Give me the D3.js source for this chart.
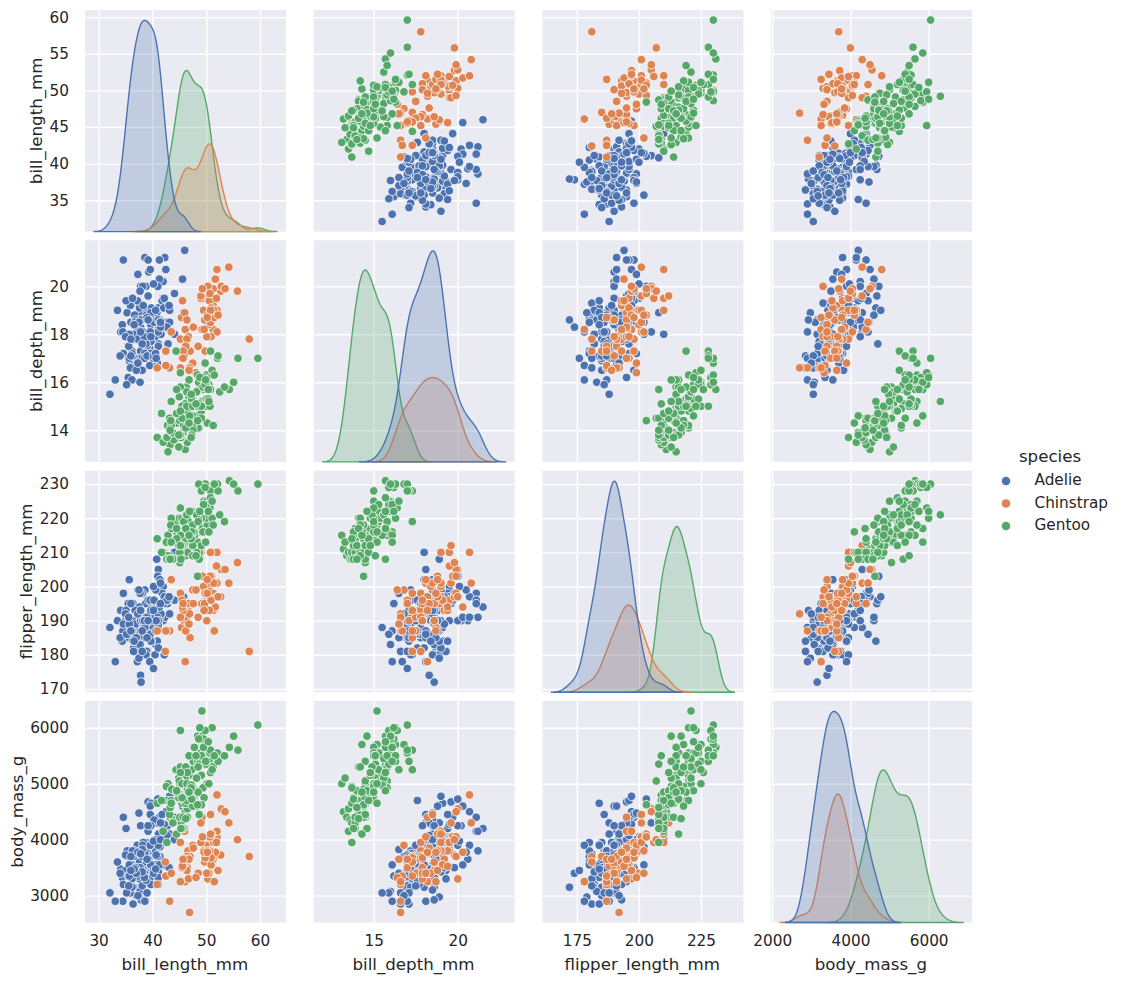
<!DOCTYPE html>
<html>
<head>
<meta charset="utf-8">
<script src="https://cdn.jsdelivr.net/npm/d3@7"></script>
<style>
html, body { margin: 0; padding: 0; background: #fff; }
svg { display: block; }
text { font-family: "DejaVu Sans", sans-serif; fill: #262626; }
</style>
</head>
<body>
<svg id="chart" width="1121" height="983"></svg>
<script>
var speciesNames = ['Adelie', 'Chinstrap', 'Gentoo'];
var speciesColors = ['#4c72b0', '#dd8452', '#55a868'];
var variables = ['bill_length_mm', 'bill_depth_mm', 'flipper_length_mm', 'body_mass_g'];

var billLengthTicks = [30, 40, 50, 60];
var billLengthRowTicks = [35, 40, 45, 50, 55, 60];
var billDepthTicks = [15, 20];
var billDepthRowTicks = [14, 16, 18, 20];
var flipperTicks = [175, 200, 225];
var flipperRowTicks = [170, 180, 190, 200, 210, 220, 230];
var massTicks = [2000, 4000, 6000];
var massRowTicks = [3000, 4000, 5000, 6000];

// bill length, bill depth, flipper length, body mass
var adelie = [
    [39.1,18.7,181,3750],[39.5,17.4,186,3800],[40.3,18,195,3250],[36.7,19.3,193,3450],[39.3,20.6,190,3650],
    [38.9,17.8,181,3625],[39.2,19.6,195,4675],[34.1,18.1,193,3475],[42,20.2,190,4250],[37.8,17.1,186,3300],
    [37.8,17.3,180,3700],[41.1,17.6,182,3200],[38.6,21.2,191,3800],[34.6,21.1,198,4400],[36.6,17.8,185,3700],
    [38.7,19,195,3450],[42.5,20.7,197,4500],[34.4,18.4,184,3325],[46,21.5,194,4200],[37.8,18.3,174,3400],
    [37.7,18.7,180,3600],[35.9,19.2,189,3800],[38.2,18.1,185,3950],[38.8,17.2,180,3800],[35.3,18.9,187,3800],
    [40.6,18.6,183,3550],[40.5,17.9,187,3200],[37.9,18.6,172,3150],[40.5,18.9,180,3950],[39.5,16.7,178,3250],
    [37.2,18.1,178,3900],[39.5,17.8,188,3300],[40.9,18.9,184,3900],[36.4,17,195,3325],[39.2,21.1,196,4150],
    [38.8,20,190,3950],[42.2,18.5,180,3550],[37.6,19.3,181,3300],[39.8,19.1,184,4650],[36.5,18,182,3150],
    [40.8,18.4,195,3900],[36,18.5,186,3100],[44.1,19.7,196,4400],[37,16.9,185,3000],[39.6,18.8,190,4600],
    [41.1,19,182,3425],[37.5,18.9,179,2975],[42.3,21.2,191,4150],[39.6,17.7,186,3500],[40.1,18.9,188,4300],
    [35,17.9,190,3450],[42,19.5,200,4050],[34.5,18.1,187,2900],[41.4,18.6,191,3700],[39,17.5,186,3550],
    [40.6,18.8,193,3800],[36.5,16.6,181,2850],[37.6,19.1,194,3750],[35.7,16.9,185,3150],[41.3,21.1,195,4400],
    [37.6,17,185,3600],[41.1,18.2,192,4050],[36.4,17.1,184,2850],[41.6,18,192,3950],[35.5,16.2,195,3350],
    [41.1,19.1,188,4100],[35.9,16.6,190,3050],[41.8,19.4,198,4450],[33.5,19,190,3600],[39.7,18.4,190,3900],
    [39.6,17.2,196,3550],[45.8,18.9,197,4150],[35.5,17.5,190,3700],[42.8,18.5,195,4250],[40.9,16.8,191,3700],
    [37.2,19.4,184,3900],[36.2,16.1,187,3550],[42.1,19.1,195,4000],[34.6,17.2,189,3200],[42.9,17.6,196,4700],
    [36.7,18.8,187,3800],[35.1,19.4,193,4200],[37.3,17.8,191,3350],[41.3,20.3,194,3550],[36.3,19.5,190,3800],
    [36.9,18.6,189,3500],[38.3,19.2,189,3950],[38.9,18.8,190,3600],[35.7,18,202,3550],[41.1,18.1,205,4300],
    [34,17.1,185,3400],[39.6,18.1,186,4450],[36.2,17.3,187,3300],[40.8,18.9,208,4300],[38.1,18.6,190,3700],
    [40.3,18.5,196,4350],[33.1,16.1,178,2900],[43.2,18.5,192,4100],[35,17.9,192,3725],[41,20,203,4725],
    [37.7,16,183,3075],[37.8,20,190,4250],[37.9,18.6,193,2925],[39.7,18.9,184,3550],[38.6,17.2,199,3750],
    [38.2,20,190,3900],[38.1,17,181,3175],[43.2,19,197,4775],[38.1,16.5,198,3825],[45.6,20.3,191,4600],
    [39.7,17.7,193,3200],[42.2,19.5,197,4275],[39.6,20.7,191,3900],[42.7,18.3,196,4075],[38.6,17,188,2900],
    [37.3,20.5,199,3775],[35.7,17,189,3350],[41.1,18.6,189,3325],[36.2,17.2,187,3150],[37.7,19.8,198,3500],
    [40.2,17,176,3450],[41.4,18.5,202,3875],[35.2,15.9,186,3050],[40.6,19,199,4000],[38.8,17.6,191,3275],
    [41.5,18.3,195,4300],[39,17.1,191,3050],[44.1,18,210,4000],[38.5,17.9,190,3325],[43.1,19.2,197,3500],
    [36.8,18.5,193,3500],[37.5,18.5,199,4475],[38.1,17.6,187,3425],[41.1,17.5,190,3900],[35.6,17.5,191,3175],
    [40.2,20.1,200,3975],[37,16.5,185,3400],[39.7,17.9,193,4250],[40.2,17.1,193,3400],[40.6,17.2,187,3475],
    [32.1,15.5,188,3050],[40.7,17,190,3725],[37.3,16.8,192,3000],[39,18.7,185,3650],[39.2,18.6,190,4250],
    [36.6,18.4,184,3475],[36,17.8,195,3450],[37.8,18.1,193,3750],[36,17.1,187,3700],[41.5,18.5,201,4000]
];
var chinstrap = [
    [46.5,17.9,192,3500],[50,19.5,196,3900],[51.3,19.2,193,3650],[45.4,18.7,188,3525],[52.7,19.8,197,3725],
    [45.2,17.8,198,3950],[46.1,18.2,178,3250],[51.3,18.2,197,3750],[46,18.9,195,4150],[51.3,19.9,198,3700],
    [46.6,17.8,193,3800],[51.7,20.3,194,3775],[47,17.3,185,3700],[52,18.1,201,4050],[45.9,17.1,190,3575],
    [50.5,19.6,201,4050],[50.3,20,197,3300],[58,17.8,181,3700],[46.4,18.6,190,3450],[49.2,18.2,195,4400],
    [42.4,17.3,181,3600],[48.5,17.5,191,3400],[43.2,16.6,187,2900],[50.6,19.4,193,3800],[46.7,17.9,195,3300],
    [52,19,197,4150],[50.5,18.4,200,3400],[49.5,19,200,3800],[46.4,17.8,191,3700],[52.8,20,205,4550],
    [40.9,16.6,187,3200],[54.2,20.8,201,4300],[42.5,16.7,187,3350],[51,18.8,203,4100],[49.7,18.6,195,3600],
    [47.5,16.8,199,3900],[47.6,18.3,195,3850],[52,20.7,210,4800],[46.9,16.6,192,2700],[53.5,19.9,205,4500],
    [49,19.5,210,3950],[46.2,17.5,187,3650],[50.9,19.1,196,3550],[45.5,17,196,3500],[50.9,17.9,196,3675],
    [50.8,18.5,201,4450],[50.1,17.9,190,3400],[49,19.6,212,4300],[51.5,18.7,187,3250],[49.8,17.3,198,3675],
    [48.1,16.4,199,3325],[51.4,19,201,3950],[45.7,17.3,193,3600],[50.7,19.7,203,4050],[42.5,17.3,187,3350],
    [52.2,18.8,197,3450],[45.2,16.6,191,3250],[49.3,19.9,203,4050],[50.2,18.8,202,3800],[45.6,19.4,194,3525],
    [51.9,19.5,206,3950],[46.8,16.5,189,3650],[45.7,17,195,3650],[55.8,19.8,207,4000],[43.5,18.1,202,3400],
    [49.6,18.2,193,3775],[50.8,19,210,4100],[50.2,18.7,198,3775]
];
var gentoo = [
    [46.1,13.2,211,4500],[50,16.3,230,5700],[48.7,14.1,210,4450],[50,15.2,218,5700],[47.6,14.5,215,5400],
    [46.5,13.5,210,4550],[45.4,14.6,211,4800],[46.7,15.3,219,5200],[43.3,13.4,209,4400],[46.8,15.4,215,5150],
    [40.9,13.7,214,4650],[49,16.1,216,5550],[45.5,13.7,214,4650],[48.4,14.6,213,5850],[45.8,14.6,210,4200],
    [49.3,15.7,217,5850],[42,13.5,210,4150],[49.2,15.2,221,6300],[46.2,14.5,209,4800],[48.7,15.1,222,5350],
    [50.2,14.3,218,5700],[45.1,14.5,215,5000],[46.5,14.5,213,4400],[46.3,15.8,215,5050],[42.9,13.1,215,5000],
    [46.1,15.1,215,5100],[44.5,14.3,216,4100],[47.8,15,215,5650],[48.2,14.3,210,4600],[50,15.3,220,5550],
    [47.3,15.3,222,5250],[42.8,14.2,209,4700],[45.1,14.5,207,5050],[59.6,17,230,6050],[49.1,14.8,220,5150],
    [48.4,16.3,220,5400],[42.6,13.7,213,4950],[44.4,17.3,219,5250],[44,13.6,208,4350],[48.7,15.7,208,5350],
    [42.7,13.7,208,3950],[49.6,16,225,5700],[45.3,13.7,210,4300],[49.6,15,216,4750],[50.5,15.9,222,5550],
    [43.6,13.9,217,4900],[45.5,13.9,210,4200],[50.5,15.9,225,5400],[44.9,13.3,213,5100],[45.2,15.8,215,5300],
    [46.6,14.2,210,4850],[48.5,14.1,220,5300],[45.1,14.4,210,4400],[50.1,15,225,5000],[46.5,14.4,217,4900],
    [45,15.4,220,5050],[43.8,13.9,208,4300],[45.5,15,220,5000],[43.2,14.5,208,4450],[50.4,15.3,224,5550],
    [45.3,13.8,208,4200],[46.2,14.9,221,5300],[45.7,13.9,214,4400],[54.3,15.7,231,5650],[45.8,14.2,219,4700],
    [49.8,16.8,230,5700],[46.2,14.4,214,4650],[49.5,16.2,229,5800],[43.5,14.2,220,4700],[50.7,15,223,5550],
    [47.7,15,216,4750],[46.4,15.6,221,5000],[48.2,15.6,221,5100],[46.5,14.8,217,5200],[46.4,15,216,4700],
    [48.6,16,230,5800],[47.5,14.2,209,4600],[51.1,16.3,220,6000],[45.2,13.8,215,4750],[45.2,16.4,223,5950],
    [49.1,14.5,212,4625],[52.5,15.6,221,5450],[47.4,14.6,212,4725],[50,15.9,224,5350],[44.9,13.8,212,4750],
    [50.8,17.3,228,5600],[43.4,14.4,218,4600],[51.3,14.2,218,5300],[47.5,14,212,4875],[52.1,17,230,5550],
    [47.5,15,218,4950],[52.2,17.1,228,5400],[45.5,14.5,212,4750],[49.5,16.1,224,5650],[44.5,14.7,214,4850],
    [50.8,15.7,226,5200],[49.4,15.8,216,4925],[46.9,14.6,222,4875],[48.4,14.4,203,4625],[51.1,16.5,225,5250],
    [48.5,15,219,4850],[55.9,17,228,5600],[47.2,15.5,215,4975],[49.1,15,228,5500],[47.3,13.8,216,4725],
    [46.8,16.1,215,5500],[41.7,14.7,210,4700],[53.4,15.8,219,5500],[43.3,14,208,4575],[48.1,15.1,209,5500],
    [50.5,15.2,216,5000],[49.8,15.9,229,5950],[43.5,15.2,213,4650],[51.5,16.3,230,5500],[46.2,14.1,217,4375],
    [55.1,16,230,5850],[44.5,15.7,217,4875],[48.8,16.2,222,6000],[47.2,13.7,214,4925],[46.8,14.3,215,4850],
    [50.4,15.7,222,5750],[45.2,14.8,212,5200],[49.9,16.1,213,5400]
];

var groups = [adelie, chinstrap, gentoo];
var xTickLists = [billLengthTicks, billDepthTicks, flipperTicks, massTicks];
var yTickLists = [billLengthRowTicks, billDepthRowTicks, flipperRowTicks, massRowTicks];

var left = 85, top_ = 10;
var panelW = 201, panelH = 221.6;
var colStep = 228.7, rowStep = 230.3;

var svg = d3.select('#chart');
var allRows = d3.merge(groups);

// gaussian kde per species, same as seaborn: scott bandwidth, cut 3, 200 grid points, common norm
function kde(rows, v) {
    var vals = rows.map(function(r) { return r[v]; });
    var bw = d3.deviation(vals) * Math.pow(vals.length, -0.2);
    var ext = d3.extent(vals);
    var lo = ext[0] - 3 * bw, hi = ext[1] + 3 * bw;
    var weight = vals.length / allRows.length;
    return d3.range(200).map(function(i) {
        var x = lo + (hi - lo) * i / 199;
        var sum = d3.sum(vals, function(d) {
            var z = (x - d) / bw;
            return Math.exp(-0.5 * z * z);
        });
        return [x, weight * sum / (vals.length * bw * Math.sqrt(2 * Math.PI))];
    });
}

function pad(ext) {
    var m = (ext[1] - ext[0]) * 0.05;
    return [ext[0] - m, ext[1] + m];
}

var curves = variables.map(function(name, v) {
    return groups.map(function(rows) { return kde(rows, v); });
});

var xScales = variables.map(function(name, v) {
    var xs = d3.merge(curves[v]).map(function(p) { return p[0]; });
    return d3.scaleLinear().domain(pad(d3.extent(xs))).range([0, panelW]);
});
var yScales = variables.map(function(name, v) {
    return d3.scaleLinear()
        .domain(pad(d3.extent(allRows, function(r) { return r[v]; })))
        .range([panelH, 0]);
});

var points = [];
groups.forEach(function(rows, s) {
    rows.forEach(function(r) { points.push({ row: r, species: s }); });
});

function drawGrid(g, col, row) {
    g.append('rect')
        .attr('width', panelW)
        .attr('height', panelH)
        .attr('fill', '#eaeaf2');

    var gridX = g.append('g')
        .attr('transform', 'translate(0,' + panelH + ')')
        .call(d3.axisBottom(xScales[col]).tickValues(xTickLists[col]).tickSize(-panelH).tickFormat(''));
    var gridY = g.append('g')
        .call(d3.axisLeft(yScales[row]).tickValues(yTickLists[row]).tickSize(-panelW).tickFormat(''));

    [gridX, gridY].forEach(function(a) {
        a.select('.domain').remove();
        a.selectAll('line').attr('stroke', '#fff').attr('stroke-width', 1.39);
    });
}

function drawDiagonal(g, v) {
    var density = d3.scaleLinear()
        .domain([0, d3.max(d3.merge(curves[v]), function(p) { return p[1]; }) * 1.05])
        .range([panelH, 0]);
    var area = d3.area()
        .x(function(p) { return xScales[v](p[0]); })
        .y0(panelH)
        .y1(function(p) { return density(p[1]); });

    // seaborn draws the last species first
    d3.range(groups.length - 1, -1, -1).forEach(function(s) {
        g.append('path')
            .attr('d', area(curves[v][s]))
            .attr('fill', speciesColors[s])
            .attr('fill-opacity', 0.25)
            .attr('stroke', speciesColors[s])
            .attr('stroke-width', 1.39);
    });
}

function drawScatter(g, col, row) {
    g.selectAll('circle')
        .data(points)
        .enter().append('circle')
        .attr('cx', function(d) { return xScales[col](d.row[col]); })
        .attr('cy', function(d) { return yScales[row](d.row[row]); })
        .attr('r', 4.3)
        .attr('fill', function(d) { return speciesColors[d.species]; })
        .attr('stroke', '#fff')
        .attr('stroke-width', 0.8);
}

variables.forEach(function(rowName, row) {
    variables.forEach(function(colName, col) {
        var g = svg.append('g')
            .attr('transform', 'translate(' + (left + col * colStep) + ',' + (top_ + row * rowStep) + ')');

        drawGrid(g, col, row);
        if (row === col) drawDiagonal(g, col);
        else drawScatter(g, col, row);

        if (row === variables.length - 1) {
            var xAxis = g.append('g')
                .attr('transform', 'translate(0,' + panelH + ')')
                .call(d3.axisBottom(xScales[col]).tickValues(xTickLists[col]).tickFormat(d3.format('d')).tickSize(0).tickPadding(12.5));
            xAxis.select('.domain').remove();
            xAxis.selectAll('text').style('font-size', '15.28px').attr('fill', null);
            xAxis.attr('font-family', null);

            g.append('text')
                .attr('x', panelW / 2 - 0.7)
                .attr('y', panelH + 47.5)
                .attr('text-anchor', 'middle')
                .style('font-size', '16.67px')
                .text(colName);
        }

        if (col === 0) {
            var yAxis = g.append('g')
                .call(d3.axisLeft(yScales[row]).tickValues(yTickLists[row]).tickFormat(d3.format('d')).tickSize(0).tickPadding(16));
            yAxis.select('.domain').remove();
            yAxis.selectAll('text').style('font-size', '15.28px').attr('fill', null);
            yAxis.attr('font-family', null);

            // label sits just left of the widest tick label
            var tickLeft = d3.min(yAxis.selectAll('text').nodes(), function(n) { return n.getBBox().x; });
            g.append('text')
                .attr('transform', 'translate(' + (tickLeft - 7.5) + ',' + (panelH / 2) + ') rotate(-90)')
                .attr('text-anchor', 'middle')
                .style('font-size', '16.67px')
                .text(rowName);
        }
    });
});

var legend = svg.append('g');
legend.append('text')
    .attr('x', 1050)
    .attr('y', 462)
    .attr('text-anchor', 'middle')
    .style('font-size', '16.67px')
    .text('species');

var legendY = d3.scalePoint().domain(speciesNames).range([481, 526]);

speciesNames.forEach(function(name, i) {
    legend.append('circle')
        .attr('cx', 1006)
        .attr('cy', legendY(name))
        .attr('r', 4.6)
        .attr('fill', speciesColors[i])
        .attr('stroke', '#fff')
        .attr('stroke-width', 0.67);
    legend.append('text')
        .attr('x', 1034.5)
        .attr('y', legendY(name) + 4)
        .style('font-size', '15.28px')
        .text(name);
});
</script>
</body>
</html>
